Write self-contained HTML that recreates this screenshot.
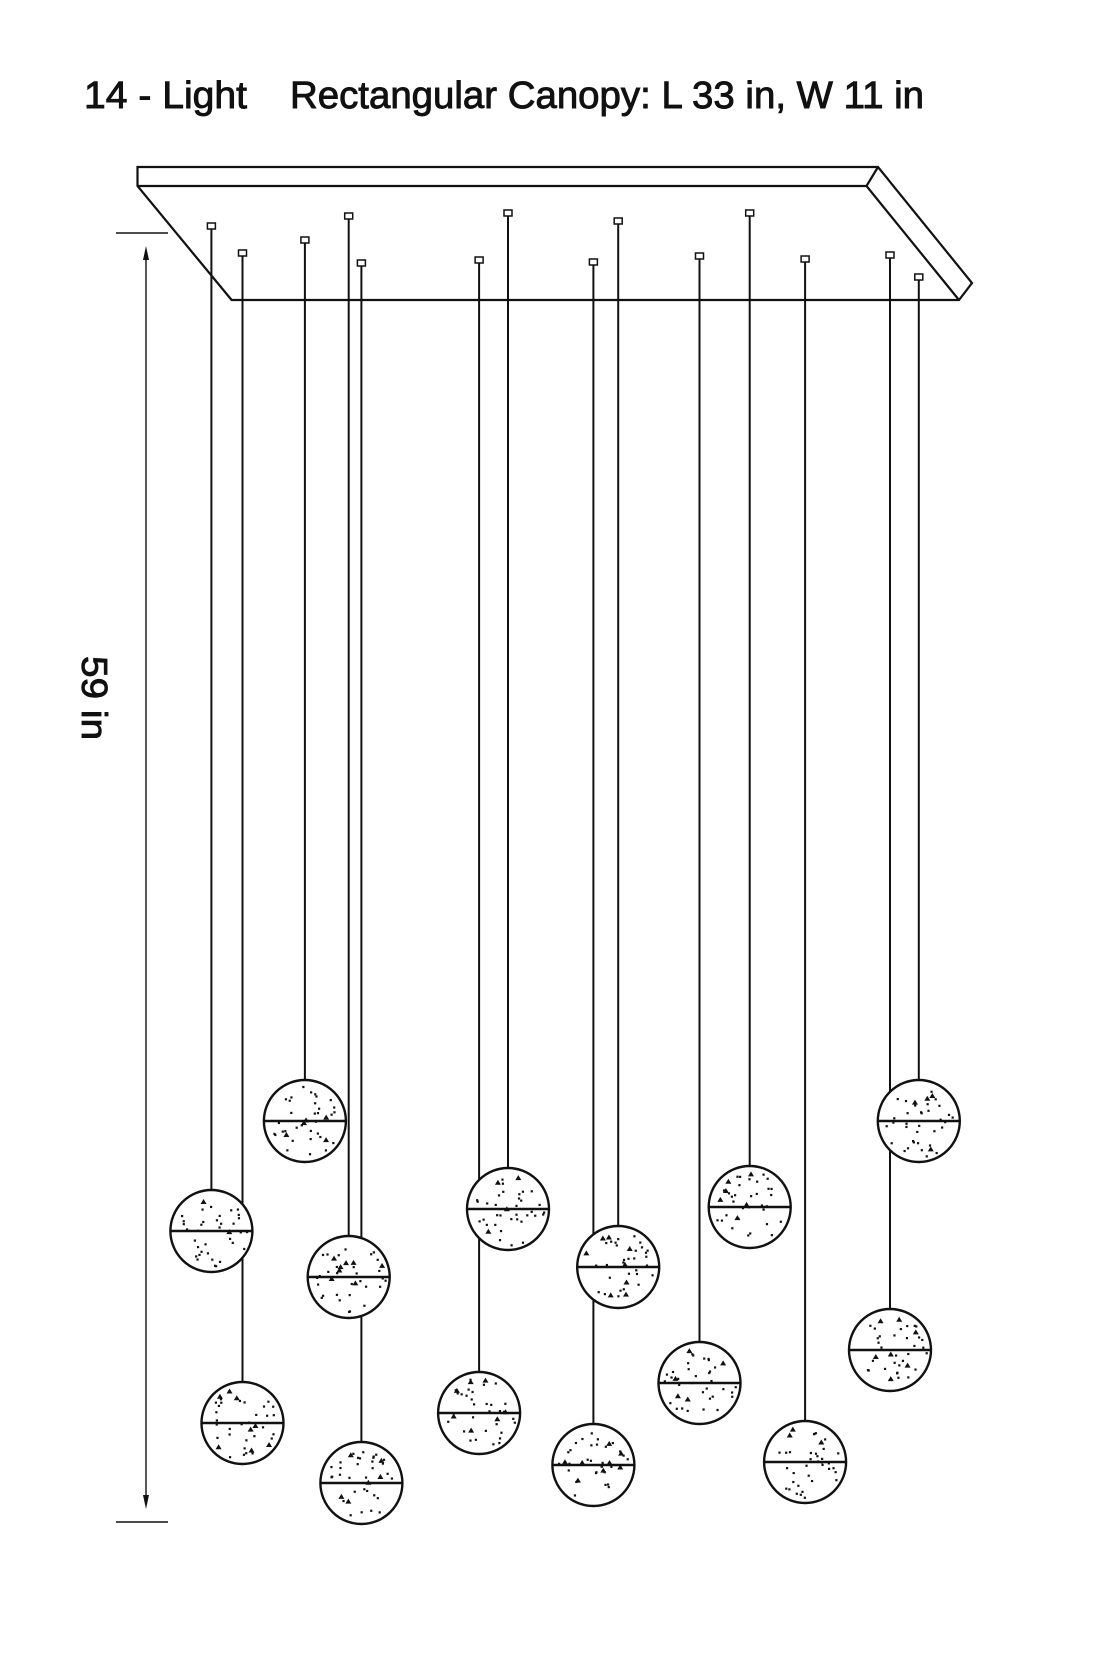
<!DOCTYPE html>
<html><head><meta charset="utf-8"><style>html,body{margin:0;padding:0;background:#fff}svg{display:block}</style></head>
<body>
<svg id="s" width="1102" height="1653" viewBox="0 0 1102 1653" xmlns="http://www.w3.org/2000/svg">
<g font-family="Liberation Sans, sans-serif" fill="#111" stroke="#111" stroke-width="0.9">
<text x="84" y="108" font-size="38" textLength="163" lengthAdjust="spacingAndGlyphs">14 - Light</text>
<text x="290" y="108" font-size="38" textLength="634" lengthAdjust="spacingAndGlyphs">Rectangular Canopy: L 33 in, W 11 in</text>
<text transform="translate(82,656) rotate(90)" font-size="36" textLength="84" lengthAdjust="spacingAndGlyphs">59 in</text>
</g>
<g fill="none" stroke="#111" stroke-width="2.2">
<path d="M137.5,167 L878,167 L972,283 L959,300 L231.6,300 L137.5,186 Z"/>
<path d="M137.5,186 L866.5,186 L878,167 M866.5,186 L959,300"/>
<path d="M116,233 L168,233 M116,1522 L168,1522 M146,252 L146,1503" stroke-width="1.4"/>
</g>
<path d="M146,246 l-3,14 h6 z M146,1509 l-3,-14 h6 z" fill="#111"/>
<g id="p"></g>
</svg>
<script>
var P=[[211.4,226,1231],[242.5,253,1423],[304.9,240,1121],[348.7,216,1277],[361.4,263,1483],[479.1,260,1413],[508,213,1209],[593.4,262,1465],[618.2,221,1267],[699.5,256,1383],[749.7,213,1207],[805.1,259,1462],[890,255,1350],[918.8,277,1121]];
var g=document.getElementById('p'),h='',seed=7;
function r(){seed=(seed*16807)%2147483647;return seed/2147483647;}
P.forEach(function(p){h+='<line x1="'+p[0]+'" y1="'+(p[1]+3)+'" x2="'+p[0]+'" y2="'+(p[2]-40)+'" stroke="#111" stroke-width="2"/>';});
P.forEach(function(p){h+='<rect x="'+(p[0]-4)+'" y="'+(p[1]-3)+'" width="8" height="6" fill="#fff" stroke="#111" stroke-width="1.5"/>';});
P.forEach(function(p){var x=p[0],y=p[2],R=41;
h+='<circle cx="'+x+'" cy="'+y+'" r="'+R+'" fill="#fff" stroke="#111" stroke-width="2.4"/>';
h+='<line x1="'+(x-R)+'" y1="'+y+'" x2="'+(x+R)+'" y2="'+y+'" stroke="#111" stroke-width="2.4"/>';
for(var i=0;i<38;i++){var a=r()*6.283,d=Math.sqrt(r())*(R-5);var dx=x+Math.cos(a)*d,dy=y+Math.sin(a)*d;
if(r()<0.15)h+='<path d="M'+dx+','+(dy-3)+' l3,5 h-6z" fill="#111"/>';else h+='<rect x="'+dx+'" y="'+dy+'" width="2.2" height="2.2" fill="#111"/>';}
});
g.innerHTML=h;
</script>
</body></html>
